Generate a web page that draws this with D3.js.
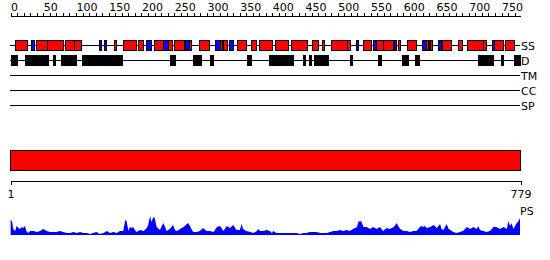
<!DOCTYPE html>
<html>
<head>
<meta charset="utf-8">
<script src="https://cdn.jsdelivr.net/npm/d3@7"></script>
<style>
  body { margin: 0; background: #fff; }
  text { font-family: "DejaVu Sans", sans-serif; font-size: 11px; fill: #000; }
</style>
</head>
<body>
<svg id="chart" width="550" height="260"></svg>
<script>
// sequence length and track names
const seqLength = 779;
const trackNames = ["SS", "D", "TM", "CC", "SP"];

// secondary structure: helix (red) and strand (blue), residue ranges
const ssHelix = [[8,26],[40,56],[57,81],[84,97],[98,109],[159,162],[172,192],[196,203],[220,233],[241,247],
  [251,266],[274,276],[289,304],[321,324],[326,331],[347,360],[368,376],[381,400],[405,425],[429,454],
  [462,470],[476,480],[490,514],[514,520],[539,551],[559,569],[570,585],[593,596],[607,620],[636,638],
  [640,641],[642,645],[660,673],[684,691],[698,722],[722,727],[739,753],[756,770]];
const ssStrand = [[32,37],[136,139],[144,147],[208,215],[233,241],[267,274],[313,321],[335,341],
  [528,532],[554,559],[586,590],[629,635],[653,658],[736,739]];

// disorder ranges
const disorder = [[1,10],[23,50],[52,58],[65,69],[78,93],[95,101],[110,171],[244,252],[279,291],
  [305,310],[362,368],[396,432],[447,450],[456,459],[465,485],[519,523],[562,566],[599,608],
  [619,625],[677,677],[715,737],[750,753],[770,779]];

// PS profile: residue position and score
const psPos = [1,3,5,8,10,13,15,18,20,23,25,28,31,36,41,46,51,56,61,66,71,76,81,87,92,97,102,107,112,117,
  122,127,132,137,143,148,153,158,163,168,173,176,178,181,183,186,188,191,193,199,204,209,211,214,216,219,
  221,224,229,234,237,239,244,249,252,255,260,265,267,270,272,275,277,280,285,290,295,300,305,311,316,321,
  326,331,336,341,346,351,354,356,361,367,372,377,379,382,387,392,397,400,402,407,412,418,423,428,433,438,
  443,448,453,458,463,468,474,479,484,489,494,499,504,509,514,519,524,530,532,535,537,540,545,550,555,560,
  565,570,575,580,586,591,593,596,601,606,611,616,621,626,629,631,634,636,642,647,652,657,659,662,667,670,
  675,677,682,687,692,698,703,708,713,715,718,723,728,733,736,738,743,748,754,759,761,764,766,769,774,776,779];
const psScore = [15,14,6,4,9,7,6,8,7,9,4,2,4,4,3,4,6,4,3,3,3,4,3,2,2,3,2,3,2,2,
  1,2,3,1,2,4,2,3,2,4,4,15,14,4,8,7,8,5,3,5,4,7,10,19,13,18,
  17,8,5,12,8,4,6,10,5,4,6,8,9,11,12,9,6,3,3,4,7,4,4,3,8,9,
  4,9,7,10,5,5,11,6,4,3,2,4,6,4,4,5,4,2,4,2,2,2,2,2,2,2,
  1,2,2,3,3,3,2,2,2,3,4,4,5,4,5,4,6,8,13,14,13,8,8,6,8,6,
  8,4,7,6,8,12,9,6,4,4,3,4,4,8,9,8,9,7,8,10,7,11,6,5,11,6,
  4,3,2,3,4,8,6,8,6,9,5,4,3,4,6,8,8,6,8,6,14,9,12,6,12,13,17];

const svg = d3.select("#chart");

const x = d3.scaleLinear().domain([0, seqLength]).range([10, 520]);
const trackY = d3.scalePoint().domain(trackNames).range([45, 105]);

// top ruler
const topAxis = d3.axisTop(x)
    .tickValues(d3.range(0, 771, 10))
    .tickSize(3)
    .tickSizeOuter(0)
    .tickFormat(d => d % 50 === 0 ? d : "");

const gTop = svg.append("g")
    .attr("transform", "translate(0.5,15.5)")
    .call(topAxis);
gTop.selectAll("text")
    .attr("text-anchor", "start")
    .attr("x", 0)
    .attr("y", -5)
    .style("font-size", "11px")
    .style("font-family", "DejaVu Sans");
gTop.selectAll("line, path").attr("stroke", "#000").attr("shape-rendering", "crispEdges");

// track base lines + labels
const tracks = svg.append("g");
tracks.selectAll("line")
    .data(trackNames)
    .enter().append("line")
    .attr("x1", x(0))
    .attr("x2", x(seqLength))
    .attr("y1", d => trackY(d) + 0.5)
    .attr("y2", d => trackY(d) + 0.5)
    .attr("stroke", "#000")
    .attr("shape-rendering", "crispEdges");
tracks.selectAll("text")
    .data(trackNames)
    .enter().append("text")
    .attr("x", x(seqLength) + 1)
    .attr("y", d => trackY(d) + 5)
    .text(d => d);

// boxes for a track
function drawBoxes(data, track, fill) {
    svg.append("g")
        .selectAll("rect")
        .data(data)
        .enter().append("rect")
        .attr("x", d => Math.round(x(d[0])) + 0.5)
        .attr("y", trackY(track) - 4.5)
        .attr("width", d => Math.max(0, Math.round(x(d[1])) - Math.round(x(d[0]))))
        .attr("height", 10)
        .attr("fill", fill)
        .attr("stroke", "#000")
        .attr("shape-rendering", "crispEdges");
}
drawBoxes(ssHelix, "SS", "#ff0000");
drawBoxes(ssStrand, "SS", "#0000ff");
drawBoxes(disorder, "D", "#000");

// full-length domain bar
svg.append("rect")
    .attr("x", x(0) + 0.5)
    .attr("y", 150.5)
    .attr("width", x(seqLength) - x(0))
    .attr("height", 20)
    .attr("fill", "#ff0000")
    .attr("stroke", "#000")
    .attr("shape-rendering", "crispEdges");

// bottom axis 1..779
const xb = d3.scaleLinear().domain([1, seqLength]).range([10, 520]);
const gBottom = svg.append("g")
    .attr("transform", "translate(0.5,180.5)")
    .call(d3.axisBottom(xb).tickValues([1, seqLength]).tickSize(4).tickSizeOuter(0));
gBottom.selectAll("text")
    .attr("y", 10)
    .style("font-size", "11px")
    .style("font-family", "DejaVu Sans");
gBottom.selectAll("line, path").attr("stroke", "#000").attr("shape-rendering", "crispEdges");

// PS profile
const yPS = d3.scaleLinear().domain([0, 20]).range([235, 215]);
const psData = psPos.map((p, i) => ({ pos: p, score: psScore[i] }));
const area = d3.area()
    .x(d => x(d.pos))
    .y0(yPS(0))
    .y1(d => yPS(d.score));
svg.append("path")
    .datum(psData)
    .attr("d", area)
    .attr("fill", "#0000ff");
svg.append("text")
    .attr("x", x(seqLength))
    .attr("y", 215)
    .text("PS");
</script>
</body>
</html>
